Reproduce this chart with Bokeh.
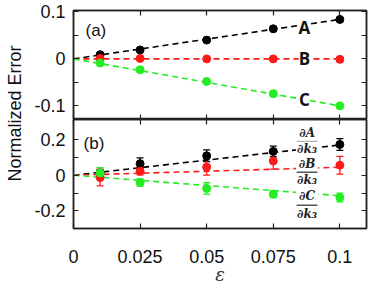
import numpy as np
from bokeh.plotting import figure
from bokeh.models import (ColumnDataSource, LinearAxis, FixedTicker, Label,
                          Whisker, TeeHead, BoxAnnotation, Range1d)
from bokeh.layouts import row, column
from bokeh.embed import file_html
from bokeh.resources import INLINE

# ---------------- data ----------------
eps = [0.01, 0.025, 0.05, 0.075, 0.1]

# panel (a)
a_vals = [0.009, 0.019, 0.040, 0.064, 0.084]
b_vals = [0.001, 0.001, 0.000, 0.000, -0.001]
c_vals = [-0.009, -0.023, -0.048, -0.074, -0.100]
fit_x = [0.0, 0.1]
a_fit = [0.0, 0.084]
b_fit = [0.0, 0.0]
c_fit = [0.0, -0.10]

# panel (b)
da_vals = [0.012, 0.065, 0.109, 0.134, 0.173]
da_err = [0.020, 0.032, 0.033, 0.030, 0.033]
db_vals = [-0.013, 0.022, 0.046, 0.080, 0.056]
db_err = [0.047, 0.020, 0.045, 0.046, 0.050]
dc_vals = [0.013, -0.041, -0.074, -0.106, -0.125]
dc_err = [0.030, 0.020, 0.032, 0.020, 0.025]
da_fit = [0.0, 0.17]
db_fit = [0.0, 0.045]
dc_fit = [0.0, -0.115]

x_ticks = [0, 0.025, 0.05, 0.075, 0.1]
x_tick_labels = ["0", "0.025", "0.05", "0.075", "0.1"]
ya_ticks = [-0.1, 0, 0.1]
ya_tick_labels = ["-0.1", "0", "0.1"]
ya_minor = [-0.05, 0.05]
yb_ticks = [-0.2, 0, 0.2]
yb_tick_labels = ["-0.2", "0", "0.2"]
yb_minor = [-0.1, 0.1]

BLACK = "#000000"
RED = "#ff1a1a"
GREEN = "#22ee22"
FONT = "Liberation Sans"
TICK_FS = "18px"


def style_axis(ax, labels=None, ticks=None, minor=None):
    ax.ticker = FixedTicker(ticks=ticks, minor_ticks=minor or [])
    ax.major_tick_in = 5
    ax.major_tick_out = 0
    ax.minor_tick_in = 5
    ax.minor_tick_out = 0
    ax.axis_line_color = "#222222"
    ax.axis_line_width = 1.5
    ax.major_tick_line_color = "#222222"
    ax.minor_tick_line_color = "#222222"
    ax.major_tick_line_width = 1.2
    ax.minor_tick_line_width = 1.2
    if labels is None:
        ax.major_label_text_font_size = "0px"
        ax.major_label_text_alpha = 0
        ax.major_label_text_color = None
        ax.major_label_standoff = 0
    else:
        ax.major_label_overrides = {t: l for t, l in zip(ticks, labels)}
        ax.major_label_text_font = FONT
        ax.major_label_text_font_size = TICK_FS
        ax.major_label_text_color = "#111111"


def make_panel(yr, yticks, ylabels, yminor, mb_top, mb_bottom, show_x_labels):
    p = figure(frame_width=293, frame_height=109, output_backend="svg", toolbar_location=None,
               x_range=Range1d(0, 0.11), y_range=Range1d(*yr),
               x_axis_type=None, y_axis_type=None,
               min_border_left=47, min_border_right=2,
               min_border_top=mb_top, min_border_bottom=mb_bottom)
    p.grid.visible = False
    p.outline_line_color = "#222222"
    p.outline_line_width = 1.5
    left = LinearAxis()
    style_axis(left, ylabels, yticks, yminor)
    left.major_label_standoff = 8
    p.add_layout(left, "left")
    right = LinearAxis()
    style_axis(right, None, yticks, yminor)
    p.add_layout(right, "right")
    top = LinearAxis()
    style_axis(top, None, x_ticks)
    p.add_layout(top, "above")
    bottom = LinearAxis()
    if show_x_labels:
        style_axis(bottom, x_tick_labels, x_ticks)
        bottom.major_label_standoff = 21
        bottom.axis_label = "ε"
        bottom.axis_label_text_font = "DejaVu Serif"
        bottom.axis_label_text_font_style = "italic"
        bottom.axis_label_text_font_size = "18px"
        bottom.axis_label_text_color = "#333333"
        bottom.axis_label_standoff = -2
    else:
        style_axis(bottom, None, x_ticks)
    p.add_layout(bottom, "below")
    return p


DASH = "6 4"
LW = 1.6
MS = 8

# ---------------- panel (a) ----------------
pa = make_panel((-0.129, 0.103), ya_ticks, ya_tick_labels, ya_minor, 10, 0, False)
for fy, col in ((a_fit, BLACK), (b_fit, RED), (c_fit, GREEN)):
    pa.line(fit_x, fy, line_color=col, line_dash=DASH, line_width=LW)
for vals, col in ((a_vals, BLACK), (b_vals, RED), (c_vals, GREEN)):
    pa.scatter(eps, vals, size=MS, fill_color=col, line_color=col)

for txt, yv in (("A", 0.067), ("B", 0.0), ("C", -0.087)):
    pa.add_layout(Label(x=0.0867, y=yv, text=txt, text_align="center", text_baseline="middle",
                        text_font="Open Sans", text_font_style="bold", text_font_size="17px",
                        text_color="#111111", background_fill_color="white",
                        background_fill_alpha=1.0))
pa.add_layout(Label(x=0.0045, y=0.06, text="(a)", text_baseline="middle",
                    text_font=FONT, text_font_size="17px", text_color="#111111"))

# ---------------- panel (b) ----------------
pb = make_panel((-0.299, 0.313), yb_ticks, yb_tick_labels, yb_minor, 0, 0, True)
for fy, col in ((da_fit, BLACK), (db_fit, RED), (dc_fit, GREEN)):
    pb.line(fit_x, fy, line_color=col, line_dash=DASH, line_width=LW)
for vals, errs, col in ((da_vals, da_err, BLACK), (db_vals, db_err, RED), (dc_vals, dc_err, GREEN)):
    src = ColumnDataSource(dict(x=eps, y=vals,
                                lo=[v - e for v, e in zip(vals, errs)],
                                hi=[v + e for v, e in zip(vals, errs)]))
    pb.scatter("x", "y", source=src, size=MS, fill_color=col, line_color=col)
    pb.add_layout(Whisker(source=src, base="x", lower="lo", upper="hi",
                          line_color=col, line_width=1.3,
                          upper_head=TeeHead(size=7, line_color=col, line_width=1.3),
                          lower_head=TeeHead(size=7, line_color=col, line_width=1.3)))

frac_x = 0.0877
for num, yn, ybar, yd, barcol in (("∂A", 0.235, 0.19, 0.145, "#b0b0b0"),
                                   ("∂B", 0.061, 0.017, -0.028, "#555555"),
                                   ("∂C", -0.117, -0.168, -0.218, "#555555")):
    pb.add_layout(BoxAnnotation(left=0.0835, right=0.0919, top=yn + 0.03, bottom=yd - 0.03,
                                fill_color="white", fill_alpha=1.0, line_color=None))
    for t, yy in ((num, yn), ("∂k₃", yd)):
        pb.add_layout(Label(x=frac_x, y=yy, text=t, text_align="center", text_baseline="middle",
                            text_font="DejaVu Serif", text_font_style="bold italic",
                            text_font_size="12px", text_color="#222222"))
    pb.add_layout(BoxAnnotation(left=0.0838, right=0.0916, top=ybar + 0.004, bottom=ybar - 0.004,
                                fill_color=barcol, fill_alpha=1.0, line_color=None))
pb.add_layout(Label(x=0.0038, y=0.179, text="(b)", text_baseline="middle",
                    text_font=FONT, text_font_size="17px", text_color="#111111"))

# ---------------- y label ----------------
pl = figure(width=26, height=285, output_backend="svg", toolbar_location=None,
            x_range=Range1d(0, 1), y_range=Range1d(0, 1),
            x_axis_type=None, y_axis_type=None, min_border=0)
pl.grid.visible = False
pl.outline_line_color = None
pl.add_layout(Label(x=14, y=172, x_units="screen", y_units="screen", angle=np.pi / 2,
                    text="Normalized Error", text_align="center", text_baseline="middle",
                    text_font=FONT, text_font_size="18px", text_color="#111111"))

layout = row(pl, column(pa, pb, spacing=0), spacing=0)
open("out.html", "w").write(file_html(layout, INLINE))
